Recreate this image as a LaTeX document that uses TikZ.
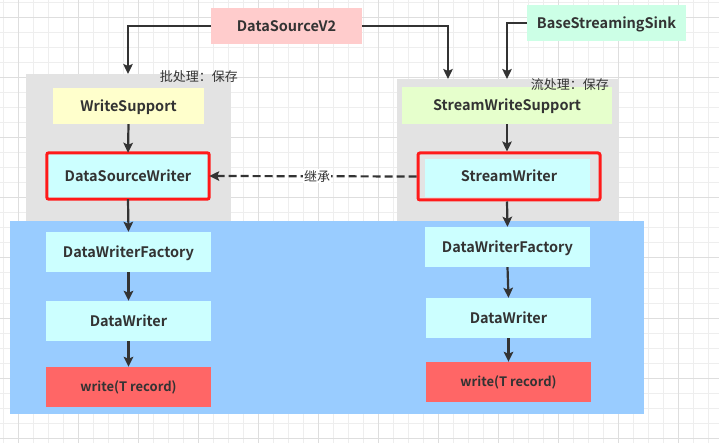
\documentclass[tikz,border=0pt]{standalone}
\usepackage{fontspec}
\setmainfont{Noto Sans CJK SC}[BoldFont={Noto Sans CJK SC Bold}]
\newfontfamily\cjk{Noto Sans CJK SC}
\usetikzlibrary{arrows.meta}

\definecolor{ink}{HTML}{333333}
\definecolor{gridlight}{HTML}{EEEEEE}
\definecolor{griddark}{HTML}{DEDEDE}
\definecolor{panel}{HTML}{E3E3E3}
\definecolor{water}{HTML}{99CCFF}
\definecolor{pinkbox}{HTML}{FFCCCC}
\definecolor{mintbox}{HTML}{CCFFE6}
\definecolor{yellowbox}{HTML}{FFFFCC}
\definecolor{limebox}{HTML}{E6FFCC}
\definecolor{cyanbox}{HTML}{CCFFFF}
\definecolor{redfill}{HTML}{FF6666}
\definecolor{redline}{HTML}{FF1A1A}

\begin{document}
\begin{tikzpicture}[x=1pt,y=-1pt,
  box/.style={inner sep=0pt,text height=10.5pt,text depth=0pt,font=\fontsize{14.5}{16}\selectfont\bfseries,text=ink},
  small/.style={font=\fontsize{13}{15}\selectfont\bfseries,text height=9.5pt},
  link/.style={draw=ink,line width=2.2pt,-{Stealth[length=10pt,width=9.5pt,inset=2pt]}},
  note/.style={font=\cjk\fontsize{13}{15}\selectfont,text=ink,inner sep=1pt},
  redbox/.style={draw=redline,line width=3pt,rounded corners=2pt}]

\useasboundingbox (0,0) rectangle (719,443);

% Background grid
\foreach \x in {3,18,...,718} \draw[gridlight,line width=1pt] (\x,0) -- (\x,443);
\foreach \y in {3,18,...,438} \draw[gridlight,line width=1pt] (0,\y) -- (719,\y);
\foreach \x in {18,78,...,678} \draw[griddark,line width=1pt] (\x,0) -- (\x,443);
\foreach \y in {18,78,...,438} \draw[griddark,line width=1pt] (0,\y) -- (719,\y);

% Panels
\fill[panel] (26,74) rectangle (231,221);
\fill[panel] (397,79) rectangle (619,221);
\fill[water] (10,221) rectangle (644,414);

% Top sources
\node[box,fill=pinkbox,minimum width=151pt,minimum height=36pt] (ds) at (286.5,26) {DataSourceV2};
\node[box,fill=mintbox,minimum width=159pt,minimum height=36pt] (sink) at (606.5,23) {BaseStreamingSink};

% Batch side
\node[box,fill=yellowbox,minimum width=151pt,minimum height=36pt] (ws) at (128.5,106) {WriteSupport};
\node[box,fill=cyanbox,minimum width=162pt,minimum height=46pt] (dsw) at (128,176) {DataSourceWriter};
\draw[redbox] (dsw.south west) rectangle (dsw.north east);
\node[box,fill=cyanbox,minimum width=165pt,minimum height=40pt] (dwf1) at (128.5,252) {DataWriterFactory};
\node[box,fill=cyanbox,minimum width=165pt,minimum height=40pt] (dw1) at (128.5,321) {DataWriter};
\node[box,small,fill=redfill,minimum width=165pt,minimum height=40pt] (wr1) at (128.5,387) {write(T record)};

% Stream side
\node[box,fill=limebox,minimum width=210pt,minimum height=37pt] (sws) at (507,105.5) {StreamWriteSupport};
\fill[cyanbox] (425,159) rectangle (590,197);
\node[box,redbox,minimum width=182pt,minimum height=47pt] (sw) at (509,176.5) {StreamWriter};
\node[box,fill=cyanbox,minimum width=165pt,minimum height=40pt] (dwf2) at (507.5,247) {DataWriterFactory};
\node[box,fill=cyanbox,minimum width=165pt,minimum height=40pt] (dw2) at (508.5,318) {DataWriter};
\node[box,small,fill=redfill,minimum width=165pt,minimum height=40pt] (wr2) at (508.5,382) {write(T record)};

% Panel labels
\node[note,anchor=east] (batchlbl) at (239,77) {批处理：保存};
\node[note,anchor=east] (streamlbl) at (610,85) {流处理：保存};

% Entry points on the panels
\coordinate (batchin) at (128,74);
\coordinate (streamin) at (448,79);
\coordinate (sinkin) at (507,79);

% Connectors
\draw[link] (ds.west) -| (batchin);
\draw[link] (ds.east) -| (streamin);
\draw[link] (sink.west) -| (sinkin);
\draw[link] (ws.south) -- (dsw.north);
\draw[link] (dsw.south) -- (dwf1.north);
\draw[link] (dwf1.south) -- (dw1.north);
\draw[link] (dw1.south) -- (wr1.north);
\draw[link] (sws.south) -- (sw.north -| sws.south);
\draw[link] (sw.south -| sws.south) -- (dwf2.north);
\draw[link] (dwf2.south) -- (dw2.north);
\draw[link] (dw2.south) -- (wr2.north);

% Inheritance
\draw[link,dash pattern=on 8pt off 4pt] (sw.west) -- (dsw.east)
  node[note,pos=0.48,fill=white,inner sep=1pt] (inherit) {继承};

\end{tikzpicture}
\end{document}
